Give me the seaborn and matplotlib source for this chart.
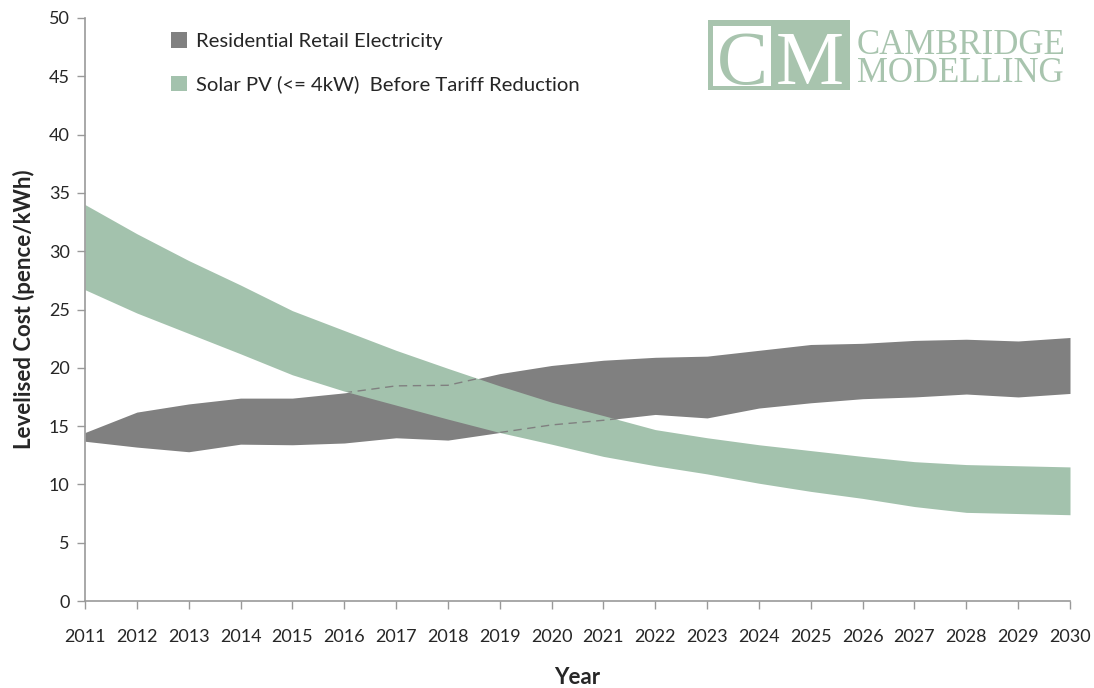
import matplotlib
matplotlib.use("Agg")
import matplotlib.pyplot as plt
import seaborn as sns
import numpy as np
import pandas as pd
from matplotlib.patches import Rectangle, Patch

years = list(range(2011, 2031))
retail_low = [13.7, 13.2, 12.8, 13.45, 13.4, 13.55, 14.0, 13.8, 14.45, 15.1,
              15.5, 16.0, 15.7, 16.55, 17.0, 17.35, 17.5, 17.75, 17.5, 17.8]
retail_high = [14.45, 16.2, 16.9, 17.4, 17.4, 17.85, 18.45, 18.5, 19.5, 20.2,
               20.65, 20.9, 21.0, 21.5, 22.0, 22.1, 22.35, 22.45, 22.3, 22.6]
solar_low = [26.7, 24.7, 22.95, 21.2, 19.4, 18.0, 16.8, 15.6, 14.45, 13.45,
             12.4, 11.6, 10.9, 10.1, 9.4, 8.8, 8.1, 7.6, 7.5, 7.4]
solar_high = [34.0, 31.5, 29.2, 27.1, 24.9, 23.2, 21.5, 19.95, 18.45, 17.05,
              15.9, 14.7, 14.0, 13.4, 12.9, 12.4, 11.95, 11.7, 11.6, 11.5]
series_names = ["Residential Retail Electricity",
                "Solar PV (<= 4kW)  Before Tariff Reduction"]
y_ticks = list(range(0, 55, 5))

df = pd.DataFrame({"Year": years, "retail_low": retail_low, "retail_high": retail_high,
                   "solar_low": solar_low, "solar_high": solar_high})

sns.set_theme(style="white")
plt.rcParams["font.family"] = ["Lato", "DejaVu Sans"]

GREY = "#808080"
GREEN = "#A3C2AD"

fig = plt.figure(figsize=(10.94, 6.88), dpi=100)
ax = fig.add_axes([85 / 1094, 1 - 601 / 688, 985 / 1094, 583 / 688])

ax.fill_between(df["Year"], df["retail_low"], df["retail_high"], color=GREY, lw=0)
green = ax.fill_between(df["Year"], df["solar_low"], df["solar_high"], color=GREEN, lw=0)

# dashed outline of the retail band, visible only where hidden behind the solar band
clip_path = green.get_paths()[0]
for col in ["retail_low", "retail_high"]:
    sns.lineplot(data=df, x="Year", y=col, ax=ax, color=GREY, lw=1.0,
                 linestyle=(0, (6, 4)), legend=False)
for ln in ax.lines:
    ln.set_clip_path(clip_path, ax.transData)

ax.set_xlim(2011, 2030)
ax.set_ylim(0, 50)
ax.set_xticks(years)
ax.set_xticklabels([str(y) for y in years], fontsize=13)
ax.set_yticks(y_ticks)
ax.set_yticklabels([str(v) for v in y_ticks], fontsize=13)
ax.tick_params(axis="both", direction="out", length=6, width=1, color="#999999",
               bottom=True, left=True, pad=5)
ax.tick_params(axis="x", pad=14)
for s in ["top", "right"]:
    ax.spines[s].set_visible(False)
for s in ["left", "bottom"]:
    ax.spines[s].set_color("#999999")
    ax.spines[s].set_linewidth(1.2)
ax.set_xlabel("Year", fontsize=16, fontweight="bold", labelpad=16)
ax.set_ylabel("Levelised Cost (pence/kWh)", fontsize=16, fontweight="bold", labelpad=10)

handles = [Patch(facecolor=GREY, edgecolor="none"), Patch(facecolor=GREEN, edgecolor="none")]
fig.legend(handles, series_names, loc="upper left", bbox_to_anchor=(153 / 1094, 1 - 14 / 688),
           frameon=False, fontsize=14.6, handlelength=0.8, handleheight=0.8,
           handletextpad=0.4, labelspacing=1.25)

# logo
LOGO = "#A8C4AE"
fig.patches.append(Rectangle((708 / 1094, 1 - 90 / 688), 142 / 1094, 70 / 688,
                             transform=fig.transFigure, facecolor=LOGO, edgecolor="none"))
fig.patches.append(Rectangle((713 / 1094, 1 - 86 / 688), 58 / 1094, 60 / 688,
                             transform=fig.transFigure, facecolor="white", edgecolor="none"))
fig.text(742 / 1094, 1 - 84 / 688, "C", fontsize=55, family="Liberation Serif",
         color=LOGO, ha="center", va="baseline")
fig.text(810 / 1094, 1 - 84 / 688, "M", fontsize=55, family="Liberation Serif",
         color="white", ha="center", va="baseline")
fig.text(857 / 1094, 1 - 82 / 688, "CAMBRIDGE\nMODELLING", fontsize=25,
         family="Liberation Serif", color=LOGO, ha="left", va="baseline",
         linespacing=0.78)

fig.savefig("out.png", dpi=100)
